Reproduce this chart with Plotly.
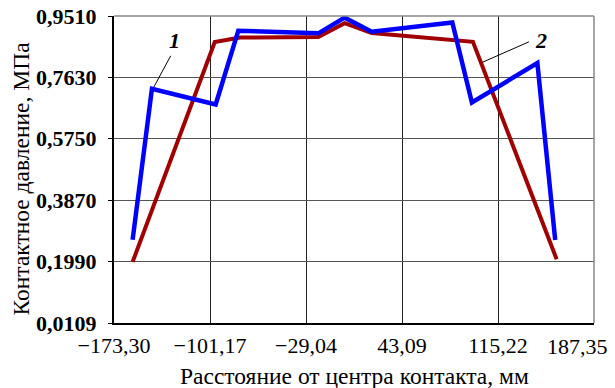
import plotly.graph_objects as go

# Data
x_blue = [-159.3, -144.8, -96.9, -79.9, -19.8, 0.0, 20.3, 80.9, 95.6, 144.8, 158.2]
y_blue = [0.266, 0.728, 0.680, 0.906, 0.898, 0.946, 0.903, 0.931, 0.686, 0.807, 0.265]
x_red = [-159.3, -97.6, -78.6, -19.8, 0.0, 20.3, 96.4, 159.3]
y_red = [0.198, 0.871, 0.885, 0.887, 0.929, 0.899, 0.872, 0.206]

x_ticks = [-173.30, -101.17, -29.04, 43.09, 115.22, 187.35]
x_ticktext = ["\u2212173,30", "\u2212101,17", "\u221229,04", "43,09", "115,22", "187,35"]
y_ticks = [0.0109, 0.1990, 0.3870, 0.5750, 0.7630, 0.9510]
y_ticktext = ["0,0109", "0,1990", "0,3870", "0,5750", "0,7630", "0,9510"]

FONT = "Liberation Serif"

fig = go.Figure()
fig.add_trace(go.Scatter(x=x_red, y=y_red, mode="lines",
                         line=dict(color="#A00000", width=4), name="2"))
fig.add_trace(go.Scatter(x=x_blue, y=y_blue, mode="lines",
                         line=dict(color="#0000FF", width=4.5), name="1"))

fig.update_layout(
    width=615, height=388,
    margin=dict(l=114, r=21, t=16, b=65, autoexpand=False),
    plot_bgcolor="white", paper_bgcolor="white",
    showlegend=False,
    font=dict(family=FONT, color="black"),
)
# last x label is placed as an annotation so it stays inside the page
fig.update_xaxes(
    range=[-173.30, 187.35], tickvals=x_ticks,
    ticktext=x_ticktext[:-1] + [""],
    showgrid=True, gridcolor="#222222", gridwidth=1,
    showline=True, linecolor="black", linewidth=2,
    ticks="", zeroline=False, automargin=False,
    tickfont=dict(family=FONT, size=22, color="black"),
    ticklabelstandoff=2, ticklabeloverflow="allow",
)
fig.update_yaxes(
    range=[0.0109, 0.9510], tickvals=y_ticks, ticktext=y_ticktext,
    showgrid=True, gridcolor="#555555", gridwidth=1.3,
    showline=True, linecolor="black", linewidth=2,
    ticks="outside", ticklen=4, tickcolor="black", zeroline=False, automargin=False,
    tickfont=dict(family=FONT, size=22, color="black", weight="bold"),
    ticklabelstandoff=7, ticklabeloverflow="allow",
)
fig.add_annotation(x=x_ticks[-1], xref="x", y=0, yref="paper", text=x_ticktext[-1],
                   showarrow=False, xanchor="right", yanchor="middle",
                   xshift=16, yshift=-23,
                   font=dict(family=FONT, size=22, color="black"))

# top and right frame (gray)
fig.add_shape(type="line", xref="paper", yref="paper", x0=0, x1=1, y0=1, y1=1,
              line=dict(color="#888888", width=1.5))
fig.add_shape(type="line", xref="paper", yref="paper", x0=1, x1=1, y0=0, y1=1,
              line=dict(color="#888888", width=1.5))

# leader lines
fig.add_shape(type="line", x0=-130.7, y0=0.829, x1=-143.8, y1=0.730,
              line=dict(color="black", width=1))
fig.add_shape(type="line", x0=138.5, y0=0.872, x1=103.4, y1=0.809,
              line=dict(color="black", width=1))

fig.add_annotation(x=-127.5, y=0.877, text="<b><i>1</i></b>", showarrow=False,
                   font=dict(family=FONT, size=22, color="black"))
fig.add_annotation(x=147.8, y=0.877, text="<b><i>2</i></b>", showarrow=False,
                   font=dict(family=FONT, size=22, color="black"))

# axis titles
fig.add_annotation(xref="paper", yref="paper", x=0.5, y=0, yshift=-53,
                   text="Расстояние от центра контакта, мм", showarrow=False,
                   xanchor="center", yanchor="middle",
                   font=dict(family=FONT, size=23.5, color="black"))
fig.add_annotation(xref="paper", yref="paper", x=0, y=0.5, xshift=-94, yshift=-9,
                   text="Контактное давление, МПа", showarrow=False, textangle=-90,
                   xanchor="center", yanchor="middle",
                   font=dict(family=FONT, size=23.5, color="black"))

fig.write_html("out.html", config={"displayModeBar": False},
               post_script="document.body.style.margin='0px';")
